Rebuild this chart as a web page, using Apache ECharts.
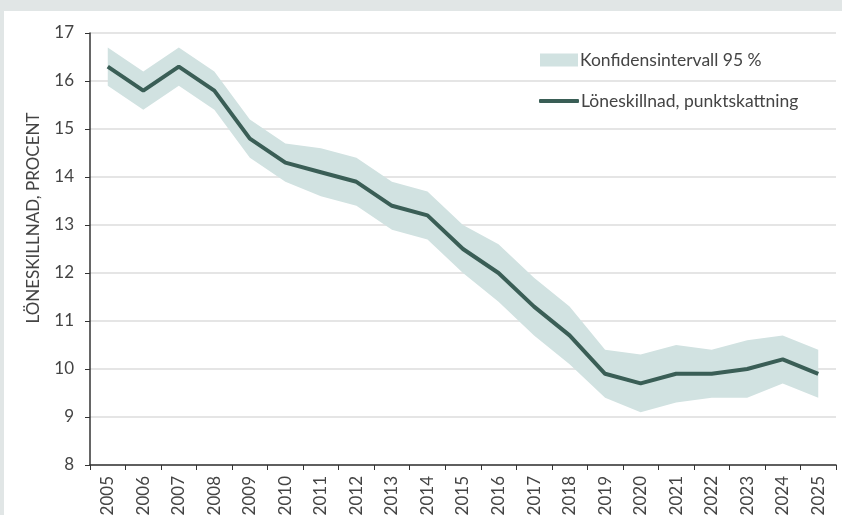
<!DOCTYPE html>
<html lang="sv">
<head>
    <meta charset="UTF-8">
    <title>Löneskillnad</title>
    <script src="https://cdn.jsdelivr.net/npm/echarts@6.0.0/dist/echarts.min.js"></script>
    <style>
        html, body { margin: 0; padding: 0; background: #e1e6e6; }
        #chart { position: absolute; left: 4px; top: 11px; width: 838px; height: 504px; background: #fff; }
    </style>
</head>
<body>
<div id="chart"></div>
<script>
    var years = ['2005', '2006', '2007', '2008', '2009', '2010', '2011', '2012', '2013', '2014', '2015',
        '2016', '2017', '2018', '2019', '2020', '2021', '2022', '2023', '2024', '2025'];
    var estimate = [16.3, 15.8, 16.3, 15.8, 14.8, 14.3, 14.1, 13.9, 13.4, 13.2, 12.5,
        12.0, 11.3, 10.7, 9.9, 9.7, 9.9, 9.9, 10.0, 10.2, 9.9];
    var upper = [16.7, 16.2, 16.7, 16.2, 15.2, 14.7, 14.6, 14.4, 13.9, 13.7, 13.0,
        12.6, 11.9, 11.3, 10.4, 10.3, 10.5, 10.4, 10.6, 10.7, 10.4];
    var lower = [15.9, 15.4, 15.9, 15.4, 14.4, 13.9, 13.6, 13.4, 12.9, 12.7, 12.0,
        11.4, 10.7, 10.1, 9.4, 9.1, 9.3, 9.4, 9.4, 9.7, 9.4];

    var bandName = 'Konfidensintervall 95 %';
    var lineName = 'Löneskillnad, punktskattning';
    var font = 'Lato, "Noto Sans", sans-serif';

    // bandets tjocklek ovanpå nedre gränsen
    var width = upper.map(function (u, i) { return +(u - lower[i]).toFixed(2); });

    var chart = echarts.init(document.getElementById('chart'));
    chart.setOption({
        animation: false,
        textStyle: { fontFamily: font },
        grid: { left: 86, right: 6, top: 22, bottom: 50, outerBoundsMode: 'none', containLabel: false },
        legend: [{
            data: [bandName],
            orient: 'vertical',
            left: 531, top: 35,
            icon: 'rect', itemWidth: 38, itemHeight: 13, itemGap: 6,
            textStyle: { fontFamily: font, fontSize: 17.5, color: '#444', padding: [0, 0, 0, -3] }
        }, {
            data: [lineName],
            orient: 'vertical',
            left: 530, top: 76,
            icon: 'roundRect', itemWidth: 40, itemHeight: 4, itemGap: 6,
            textStyle: { fontFamily: font, fontSize: 17.5, color: '#444', padding: [0, 0, 0, -3] }
        }],
        graphic: [{
            type: 'text',
            x: 30, y: 207,
            rotation: Math.PI / 2,
            style: {
                text: 'LÖNESKILLNAD, PROCENT',
                fontSize: 17,
                fontFamily: font,
                fill: '#444',
                align: 'center',
                verticalAlign: 'middle'
            }
        }],
        xAxis: {
            type: 'category',
            data: years,
            boundaryGap: true,
            axisLine: { lineStyle: { color: '#333', width: 1.5 } },
            axisTick: { show: true, interval: 0, length: 5, lineStyle: { color: '#333' } },
            axisLabel: { interval: 0, rotate: 90, fontSize: 17, color: '#444', margin: 11, fontFamily: font }
        },
        yAxis: {
            type: 'value',
            min: 8, max: 17, interval: 1,
            axisLine: { show: true, lineStyle: { color: '#333', width: 1.5 } },
            axisTick: { show: true, length: 5, lineStyle: { color: '#333' } },
            axisLabel: { fontSize: 17, color: '#444', margin: 16, fontFamily: font },
            splitLine: { lineStyle: { color: '#dddddd', width: 1.5 } }
        },
        series: [{
            name: 'lower',
            type: 'line',
            data: lower,
            stack: 'band',
            symbol: 'none',
            lineStyle: { opacity: 0 },
            silent: true
        }, {
            name: bandName,
            type: 'line',
            data: width,
            stack: 'band',
            symbol: 'none',
            lineStyle: { opacity: 0 },
            itemStyle: { color: '#d1e2e1' },
            areaStyle: { color: '#d1e2e1', opacity: 1 },
            silent: true
        }, {
            name: lineName,
            type: 'line',
            data: estimate,
            symbol: 'none',
            itemStyle: { color: '#3a5e56' },
            lineStyle: { color: '#3a5e56', width: 4 },
            z: 5
        }]
    });
</script>
</body>
</html>
